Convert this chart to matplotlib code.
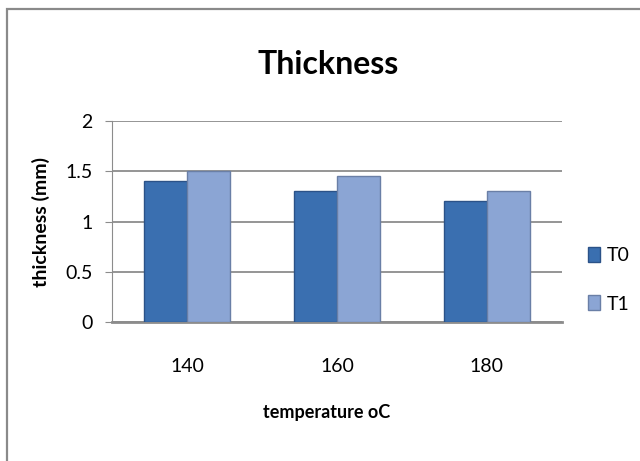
import numpy as np
import matplotlib
matplotlib.use("Agg")
import matplotlib.pyplot as plt
from matplotlib.patches import Rectangle

plt.rcParams['font.family'] = ['Lato', 'DejaVu Sans']

# data
temps = ['140', '160', '180']
t0 = [1.4, 1.3, 1.2]
t1 = [1.5, 1.45, 1.3]
series = ['T0', 'T1']

fig = plt.figure(figsize=(6.4, 4.61), dpi=100)
ax = fig.add_axes([0.175, 0.3015, 0.703, 0.436])

x = np.arange(len(temps))
w = 0.287
ax.bar(x - w / 2, t0, w, color='#3a6fb0', edgecolor='#2b5288', linewidth=1.0,
       label=series[0], zorder=3)
ax.bar(x + w / 2, t1, w, color='#8ba5d4', edgecolor='#6a7fa6', linewidth=1.0,
       label=series[1], zorder=3)

ax.set_xlim(-0.5, len(temps) - 0.5)
ax.set_ylim(0, 2)
ax.set_yticks([0, 0.5, 1, 1.5, 2])
ax.set_yticklabels(['0', '0.5', '1', '1.5', '2'])
ax.set_xticks(x)
ax.set_xticklabels(temps)
ax.yaxis.grid(True, color='#8c8c8c', linewidth=1.3, zorder=0)
ax.set_axisbelow(True)

for s in ['top', 'right']:
    ax.spines[s].set_visible(False)
ax.spines['left'].set_color('#8c8c8c')
ax.spines['bottom'].set_color('#8c8c8c')
ax.spines['bottom'].set_linewidth(2)
ax.tick_params(axis='y', labelsize=14, length=5, color='#8c8c8c', pad=9)
ax.tick_params(axis='x', labelsize=14, length=0, pad=26)

ax.set_title('Thickness', fontsize=23, fontweight='bold', pad=34, x=0.48)
ax.set_xlabel('temperature oC', fontsize=13, fontweight='bold', labelpad=21)
ax.xaxis.set_label_coords(0.476, -0.41)
ax.set_ylabel('thickness (mm)', fontsize=14, fontweight='bold', labelpad=11)

ax.legend(loc='center left', bbox_to_anchor=(1.02, 0.21), frameon=False,
          fontsize=14, handlelength=0.6, handleheight=0.8, handletextpad=0.35,
          labelspacing=1.6)

# outer chart border
fig.add_artist(Rectangle((6.5 / 640, -0.05), 1.1, (461 - 9.5) / 461 + 0.05,
                         transform=fig.transFigure, fill=False,
                         edgecolor='#8a8a8a', linewidth=1.6))

fig.savefig('out.png', dpi=100)
